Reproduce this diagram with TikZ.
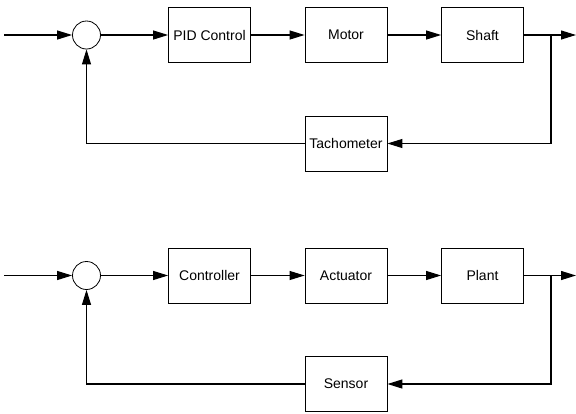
\documentclass[tikz,border=0pt]{standalone}
\usepackage{fontspec}
\setmainfont{Liberation Sans}
\usetikzlibrary{arrows.meta}

\begin{document}
\begin{tikzpicture}[
  x=1pt, y=-1pt,
  line join=miter,
  every node/.style={font=\fontsize{14}{16}\selectfont},
  block/.style={draw, line width=0.8pt, minimum width=82pt,
    minimum height=55pt, inner sep=0pt},
  sumnode/.style={draw, circle, line width=0.8pt, minimum size=28pt,
    inner sep=0pt},
  wire/.style={line width=1.1pt, -{Triangle[length=15pt,width=9pt]}}
]
  \useasboundingbox (0,0) rectangle (576,413);

  % Upper loop
  \coordinate (in1) at (4,35);
  \node[sumnode] (sum1) at (86.5,35) {};
  \node[block] (pid)   at (209.5,35) {PID Control};
  \node[block] (motor) at (346,35)   {Motor};
  \node[block] (shaft) at (482.5,35) {Shaft};
  \node[block] (tacho) at (346,143.5) {Tachometer};
  \coordinate (br1) at (551,35);
  \coordinate (out1) at (576,35);

  \draw[wire] (in1) -- (sum1);
  \draw[wire] (sum1) -- (pid);
  \draw[wire] (pid) -- (motor);
  \draw[wire] (motor) -- (shaft);
  \draw[wire] (shaft) -- (out1);
  \draw[wire] (br1) |- (tacho);
  \draw[wire] (tacho) -| (sum1);

  % Lower loop
  \coordinate (in2) at (4,275.5);
  \node[sumnode] (sum2) at (86.5,275.5) {};
  \node[block] (ctrl)   at (209.5,275.5) {Controller};
  \node[block] (act)    at (346,275.5)   {Actuator};
  \node[block] (plant)  at (482.5,275.5) {Plant};
  \node[block] (sensor) at (346,384)     {Sensor};
  \coordinate (br2) at (551,275.5);
  \coordinate (out2) at (576,275.5);

  \draw[wire] (in2) -- (sum2);
  \draw[wire] (sum2) -- (ctrl);
  \draw[wire] (ctrl) -- (act);
  \draw[wire] (act) -- (plant);
  \draw[wire] (plant) -- (out2);
  \draw[wire] (br2) |- (sensor);
  \draw[wire] (sensor) -| (sum2);
\end{tikzpicture}
\end{document}
